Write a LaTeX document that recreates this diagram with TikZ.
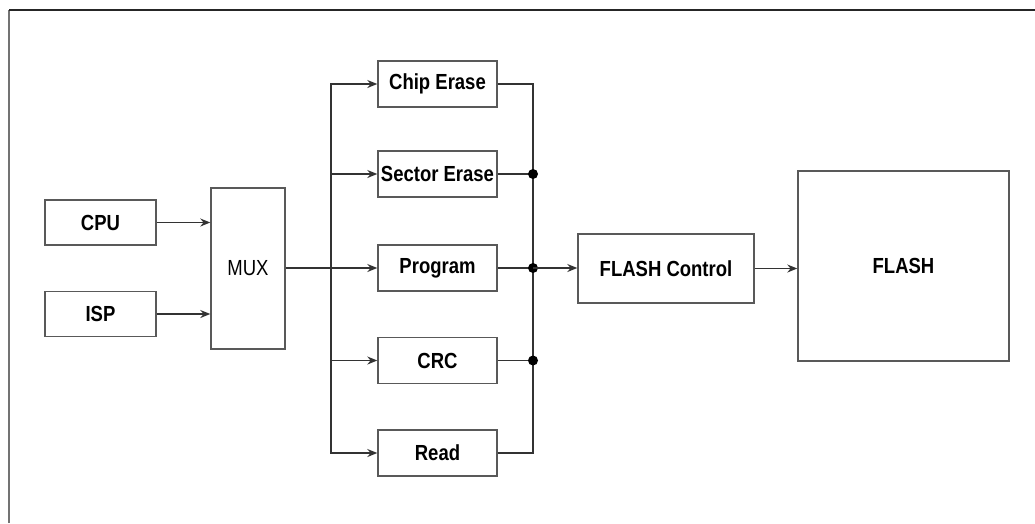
\documentclass[tikz,border=0pt]{standalone}
\usepackage{fontspec}
\setmainfont{Liberation Sans}
\usetikzlibrary{arrows.meta}
\newcommand{\tall}[1]{\scalebox{1}[1.18]{#1}}
\begin{document}
\begin{tikzpicture}[x=1pt, y=-1pt, >={Stealth[length=10pt,width=8pt]},
    box/.style={draw=black!65, line width=1.4pt, inner sep=0pt, font=\fontsize{18.5}{21}\selectfont\bfseries},
    wire/.style={black!80, line width=1.3pt}]
    \useasboundingbox (0,0) rectangle (1035,523);
    \draw[black!55, line width=1.6pt] (9,523) -- (9,10);
    \draw[black!85, line width=1.6pt] (9,10) -- (1035,10);
    \node[box, minimum width=111pt, minimum height=45pt] (cpu) at (100.5,222.5) {\tall{CPU}};
    \node[box, minimum width=111pt, minimum height=45pt] (isp) at (100.5,314) {\tall{ISP}};
    \node[box, minimum width=74pt, minimum height=161pt, font=\fontsize{18.5}{21}\selectfont] (mux) at (248,268.5) {\tall{MUX}};
    \node[box, minimum width=119pt, minimum height=46pt] (chip) at (437.5,84) {\tall{Chip Erase}};
    \node[box, minimum width=119pt, minimum height=46pt] (sector) at (437.5,174) {\tall{Sector Erase}};
    \node[box, minimum width=119pt, minimum height=46pt] (program) at (437.5,268) {\tall{Program}};
    \node[box, minimum width=119pt, minimum height=46pt] (crc) at (437.5,360.5) {\tall{CRC}};
    \node[box, minimum width=119pt, minimum height=46pt] (read) at (437.5,453) {\tall{Read}};
    \node[box, minimum width=176pt, minimum height=69pt] (ctrl) at (666,268.5) {\tall{FLASH Control}};
    \node[box, minimum width=211pt, minimum height=190pt] (flash) at (903.5,266) {\tall{FLASH}};
    \coordinate (split) at (331,268);
    \coordinate (bus) at (533,268);
    % inputs to the mux
    \draw[wire, ->] (cpu) -- (cpu -| mux.west);
    \draw[wire, ->] (isp) -- (isp -| mux.west);
    % fan out
    \draw[wire, ->] (mux.east |- program) -- (program);
    \draw[wire, ->] (split) |- (chip);
    \draw[wire, ->] (split) |- (sector);
    \draw[wire, ->] (split) |- (crc);
    \draw[wire, ->] (split) |- (read);
    % fan in
    \draw[wire] (chip) -| (bus);
    \draw[wire] (read) -| (bus);
    \draw[wire] (sector) -- (sector -| bus);
    \draw[wire] (crc) -- (crc -| bus);
    \draw[wire] (program) -- (bus);
    \fill (sector -| bus) circle (5pt);
    \fill (bus) circle (5pt);
    \fill (crc -| bus) circle (5pt);
    \draw[wire, ->] (bus) -- (bus -| ctrl.west);
    \draw[wire, ->] (ctrl) -- (ctrl -| flash.west);
\end{tikzpicture}
\end{document}
